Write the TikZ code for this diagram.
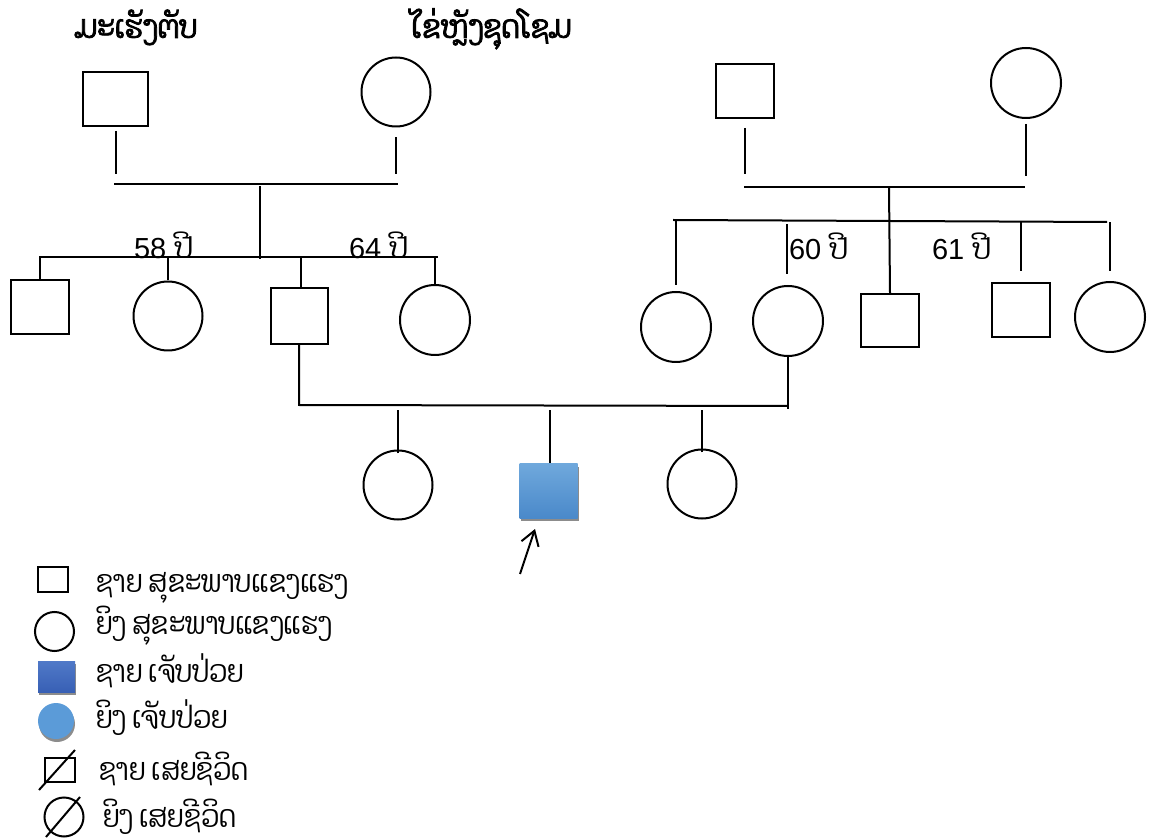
\documentclass[tikz,border=0pt]{standalone}
\usepackage{fontspec}
\setmainfont{Liberation Sans}
\newfontfamily\laofont[Script=Lao]{Dhyana}
\newfontfamily\laonarrow[Script=Lao,FakeStretch=0.85]{Dhyana}
\newfontfamily\laoheavy[Script=Lao,FakeBold=2.5,FakeStretch=0.88]{Dhyana}
\usetikzlibrary{arrows.meta,shadows}
\definecolor{sickTop}{HTML}{6FA8DC}
\definecolor{sickBot}{HTML}{4A89CA}
\definecolor{legTop}{HTML}{5079C8}
\definecolor{legBot}{HTML}{3860B5}
\definecolor{legRound}{HTML}{5B9BD8}
\tikzset{
	male/.style={draw, rectangle, inner sep=0pt, minimum width=29pt, minimum height=27pt},
	female/.style={draw, circle, inner sep=0pt, minimum size=34.5pt},
	soft shadow/.style={drop shadow={shadow xshift=0.5pt, shadow yshift=-1.5pt, opacity=0.45, fill=black}},
	sick/.style={male, draw=none, top color=sickTop, bottom color=sickBot, soft shadow},
	agetext/.style={anchor=base west, inner sep=0pt, font=\fontsize{14.5}{17}\selectfont},
	keytext/.style={anchor=base west, inner sep=0pt, font=\laonarrow\fontsize{15.5}{18}\selectfont},
	headtext/.style={anchor=base west, inner sep=0pt, font=\laoheavy\fontsize{16}{19}\selectfont}
}
\begin{document}
\begin{tikzpicture}[x=0.5pt, y=-0.5pt, line width=1pt]
				\useasboundingbox (0,0) rectangle (1151,839);
				% grandparents
				\node[male, minimum width=32.5pt] (gpaL) at (115.5,99) {};
				\node[female] (gmaL) at (396,92) {};
				\node[male] (gpaR) at (744.5,91) {};
				\node[female, minimum size=35pt] (gmaR) at (1026,83) {};
				\node[headtext] (hdL) at (74,38) {ມະເຮັງຕັບ};
				\node[headtext] (hdR) at (410,38) {ໄຂ່ຫຼັງຊຸດໂຊມ};
				% parents and their siblings
				\node[male] (a1) at (40,307) {};
				\node[female] (a2) at (168,316) {};
				\node[male, minimum width=28.5pt, minimum height=28pt] (dad) at (299,316) {};
				\node[female, minimum size=35pt] (a4) at (435,320) {};
				\node[female, minimum size=35pt] (b1) at (676,327) {};
				\node[female, minimum size=35pt] (mom) at (788,321) {};
				\node[male, minimum height=26.5pt] (b3) at (890,320.5) {};
				\node[male] (b4) at (1021,310) {};
				\node[female, minimum size=35pt] (b5) at (1110,317) {};
				\node[agetext] (ageA) at (133,259) {58 {\laofont ປີ}};
				\node[agetext] (ageB) at (348,259) {64 {\laofont ປີ}};
				\node[agetext] (ageC) at (788,260) {60 {\laofont ປີ}};
				\node[agetext] (ageD) at (931,260) {61 {\laofont ປີ}};
				% children
				\node[female] (c1) at (398,485) {};
				\node[sick] (pro) at (548.5,491) {};
				\node[female] (c3) at (702,484) {};
				% left family lines
				\draw ([yshift=-2pt]gpaL.south) -- (gpaL.south |- 0,174);
				\draw ([yshift=-5pt]gmaL.south) -- (gmaL.south |- 0,174);
				\draw (114,184) -- (398,184);
				\draw (260,186) -- (260,259);
				\draw (39,257) -- (438,257);
				\foreach \n in {a1,a2,a4}
					\draw (\n.north) -- (\n.north |- 0,257);
				\draw (dad.north) ++(2,0) -- (301,257);
				% right family lines
				\draw ([yshift=-4.5pt]gpaR.south) -- (gpaR.south |- 0,174);
				\draw ([yshift=-2.5pt]gmaR.south) -- (gmaR.south |- 0,176);
				\draw (744,187) -- (1025,187);
				\draw (889,187) -- (b3.north);
				\draw (673,220) -- (1107,222);
				\draw ([yshift=3pt]b1.north) -- (b1.north |- 0,220);
				\draw ([shift={(-1,-11)}]mom.north) -- ++(0,-50);
				\draw ([yshift=5.5pt]b4.north) -- (b4.north |- 0,221);
				\draw ([yshift=5pt]b5.north) -- (b5.north |- 0,222);
				% marriage and children
				\draw (dad.south) -- (dad.south |- 0,405) -- (mom.south |- 0,406);
				\draw (mom.south) -- (mom.south |- 0,409);
				\foreach \n in {c1,c3}
					\draw ([yshift=-2pt]\n.north) -- (\n.north |- 0,410);
				\draw (pro.north) ++(1.5,0) -- (550,410);
				\coordinate (arr) at (520,574);
				\draw[-{Straight Barb[length=7pt,width=9pt]}] (arr) -- ([shift={(-13.5,10)}]pro.south);
				% key
				\node[male, minimum width=15pt, minimum height=12.5pt] (k1) at (53,579.5) {};
				\node[female, minimum size=19.5pt] (k2) at (54.5,631.5) {};
				\node[male, draw=none, minimum width=18.5pt, minimum height=15.5pt, top color=legTop, bottom color=legBot, soft shadow] (k3) at (56.5,676.5) {};
				\node[circle, inner sep=0pt, minimum size=18pt, fill=legRound, soft shadow] (k4) at (56,721) {};
				\node[male, minimum width=15pt, minimum height=12pt] (k5) at (60,770) {};
				\draw ([shift={(-5,7)}]k5.south west) -- ([shift={(-1,-7)}]k5.north east);
				\node[female, minimum size=19.5pt] (k6) at (64,817) {};
				\draw ([shift={(-18,20)}]k6.center) -- ([shift={(16,-20)}]k6.center);
				\node[keytext] (t1) at (95,592) {ຊາຍ ສຸຂະພາບແຂງແຮງ};
				\node[keytext] (t2) at (95,634) {ຍິງ ສຸຂະພາບແຂງແຮງ};
				\node[keytext] (t3) at (95,682) {ຊາຍ ເຈັບປ່ວຍ};
				\node[keytext] (t4) at (95,728) {ຍິງ ເຈັບປ່ວຍ};
				\node[keytext] (t5) at (98,780) {ຊາຍ ເສຍຊີວິດ};
				\node[keytext] (t6) at (102,827) {ຍິງ ເສຍຊີວິດ};
\end{tikzpicture}
\end{document}
